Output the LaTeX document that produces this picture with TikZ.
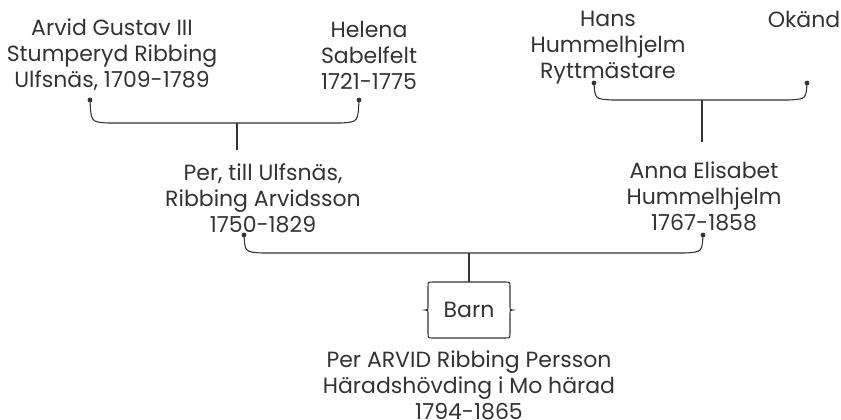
\documentclass[tikz,border=0pt]{standalone}
\usepackage{fontspec}
\setmainfont{Poppins}
\definecolor{ink}{HTML}{333333}
\begin{document}
\begin{tikzpicture}[x=0.75pt,y=-0.75pt,
  person/.style={align=center,inner sep=0pt,text=ink,font=\fontsize{16.5}{19.5}\selectfont},
  link/.style={draw=ink,line width=0.8pt},
  joint/.style={circle,fill=ink,inner sep=0pt,minimum size=3.6pt}]
\useasboundingbox (0,0) rectangle (841,420);
% people
\node[person] (arvid) at (112,55) {Arvid Gustav III\\Stumperyd Ribbing\\Ulfsnäs, 1709-1789};
\node[person] (helena) at (369,55) {Helena\\Sabelfelt\\1721-1775};
\node[person] (hans) at (608,48) {Hans\\Hummelhjelm\\Ryttmästare};
\node[person] (okand) at (804,19) {Okänd};
\node[person] (per) at (263,198) {Per, till Ulfsnäs,\\Ribbing Arvidsson\\1750-1829};
\node[person] (anna) at (704,196) {Anna Elisabet\\Hummelhjelm\\1767-1858};
\node[person,minimum width=61.5pt,minimum height=42pt] (barn) at (469,310) {Barn};
\node[person] (arvidjr) at (469,385) {Per ARVID Ribbing Persson\\Häradshövding i Mo härad\\1794-1865};
% pins
\coordinate (arvidpin) at (90,100);
\coordinate (helenapin) at (359,100);
\coordinate (hanspin) at (594,83);
\coordinate (okandpin) at (807,83);
\coordinate (perpin) at (244,235);
\coordinate (annapin) at (703,235);
\coordinate (perstem) at (237,150);
\coordinate (annastem) at (702,142);
% couples
\draw[link] (arvidpin) .. controls (91,122) .. (108,123) -- (341,123) .. controls (358,122) .. (helenapin);
\draw[link] (237,123) -- (perstem);
\draw[link] (hanspin) .. controls (595,99) .. (612,100) -- (789,100) .. controls (806,99) .. (okandpin);
\draw[link] (702,100) -- (annastem);
\draw[link] (perpin) .. controls (245,252) .. (262,253) -- (685,253) .. controls (702,252) .. (annapin);
\draw[link] (469,253) -- (barn.north);
% barn box
\draw[link] (433,282) -- (505,282) .. controls (510,282) .. (510,287) -- (510,306)
  .. controls (510,310) .. (513,310) .. controls (510,310) .. (510,314) -- (510,333)
  .. controls (510,338) .. (505,338) -- (433,338) .. controls (428,338) .. (428,333)
  -- (428,314) .. controls (428,310) .. (425,310) .. controls (428,310) .. (428,306)
  -- (428,287) .. controls (428,282) .. (433,282) -- cycle;
% dots
\foreach \p in {arvidpin,helenapin,hanspin,okandpin,perpin,annapin}
  \node[joint] at (\p) {};
\end{tikzpicture}
\end{document}
